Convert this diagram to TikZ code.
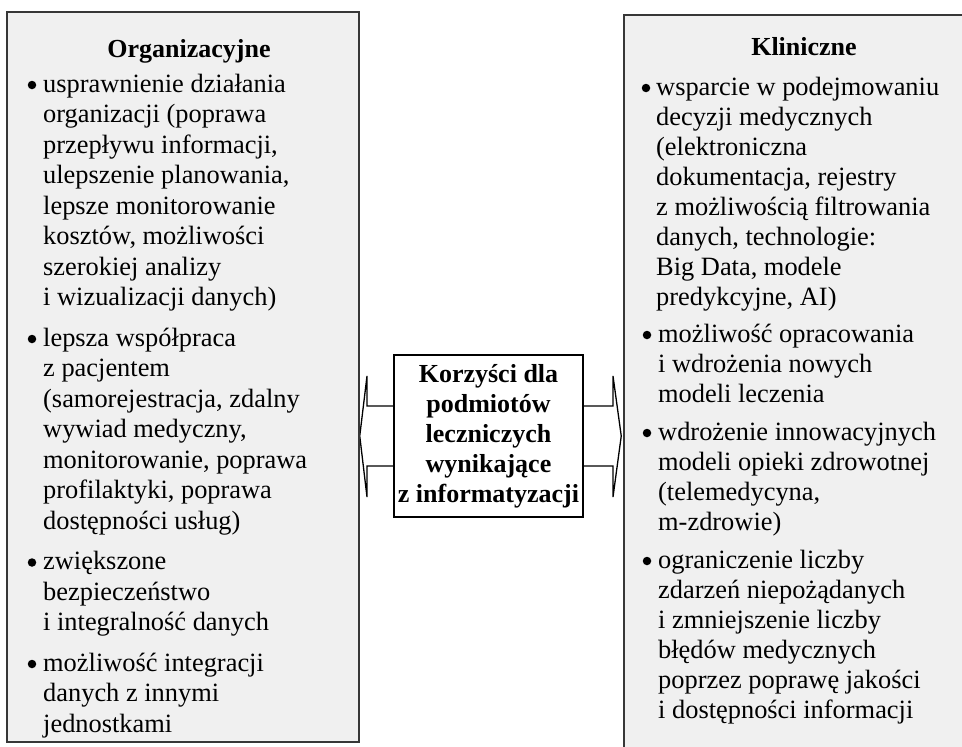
\documentclass[tikz,border=0pt]{standalone}
\usepackage{fontspec}
\setmainfont{Liberation Serif}
\usetikzlibrary{calc,backgrounds}
\definecolor{panelfill}{RGB}{240,240,240}
\definecolor{panelline}{RGB}{55,55,55}
\begin{document}
\begin{tikzpicture}[x=1pt,y=-1pt,
  panel/.style={draw=panelline, line width=1.5pt, fill=panelfill, inner sep=0pt},
  itemtext/.style={anchor=north west, inner sep=0pt, align=left, font=\fontsize{26.4}{30.5}\selectfont},
  itemtextr/.style={anchor=north west, inner sep=0pt, align=left, font=\fontsize{26.4}{30}\selectfont},
  paneltitle/.style={anchor=base, inner sep=0pt, font=\bfseries\fontsize{26}{30}\selectfont},
  bulletdot/.style={circle, fill=black, inner sep=0pt, minimum size=8.5pt},
  centerbox/.style={draw=black, line width=2pt, fill=white, inner sep=0pt,
    minimum width=189pt, minimum height=162pt, align=center,
    font=\bfseries\fontsize{26}{30}\selectfont},
  blockarrow/.style={draw=black, line width=1.3pt, fill=white, line join=miter}]
\useasboundingbox (0,0) rectangle (962,747);
\begin{scope}
\clip (0,0) rectangle (962,747);
\node[panel, minimum width=352pt, minimum height=730pt] (L) at (183,377) {};
\node[panel, minimum width=361pt, minimum height=745pt] (R) at (804.5,387.5) {};
\end{scope}

% left panel
\node[paneltitle] (Lt) at (189,57) {Organizacyjne};
\node[bulletdot] (lb1) at (32,85) {};
\node[itemtext] (l1) at (43,70.65) {\strut usprawnienie działania\\organizacji (poprawa\\przepływu informacji,\\ulepszenie planowania,\\lepsze monitorowanie\\kosztów, możliwości\\szerokiej analizy\\i wizualizacji danych)};
\node[bulletdot] (lb2) at (32,339) {};
\node[itemtext] (l2) at (43,324.65) {\strut lepsza współpraca\\z pacjentem\\(samorejestracja, zdalny\\wywiad medyczny,\\monitorowanie, poprawa\\profilaktyki, poprawa\\dostępności usług)};
\node[bulletdot] (lb3) at (32,562.5) {};
\node[itemtext] (l3) at (43,548.15) {\strut zwiększone\\bezpieczeństwo\\i integralność danych};
\node[bulletdot] (lb4) at (32,664) {};
\node[itemtext] (l4) at (43,649.65) {\strut możliwość integracji\\danych z innymi\\jednostkami};

% right panel
\node[paneltitle] (Rt) at (804,55) {Kliniczne};
\node[bulletdot] (rb1) at (646,88) {};
\node[itemtextr] (r1) at (656,74) {\strut wsparcie w podejmowaniu\\decyzji medycznych\\(elektroniczna\\dokumentacja, rejestry\\z możliwością filtrowania\\danych, technologie:\\Big Data, modele\\predykcyjne, AI)};
\node[bulletdot] (rb2) at (647,335) {};
\node[itemtextr] (r2) at (658,321) {\strut możliwość opracowania\\i wdrożenia nowych\\modeli leczenia};
\node[bulletdot] (rb3) at (647,433) {};
\node[itemtextr] (r3) at (658,419) {\strut wdrożenie innowacyjnych\\modeli opieki zdrowotnej\\(telemedycyna,\\m-zdrowie)};
\node[bulletdot] (rb4) at (647,561) {};
\node[itemtextr] (r4) at (658,547) {\strut ograniczenie liczby\\zdarzeń niepożądanych\\i zmniejszenie liczby\\błędów medycznych\\poprzez poprawę jakości\\i dostępności informacji};

% centre
\node[centerbox] (M) at (488.5,436) {Korzyści dla\\podmiotów\\leczniczych\\wynikające\\z informatyzacji};

\begin{scope}[on background layer]
\draw[blockarrow] ($(M.west)+(0,-30)$) -- ++(-26,0) -- ++(0,-30)
  -- (L.east |- M.west) -- ($(M.west)+(-26,61)$) -- ++(0,-31) -- ($(M.west)+(0,30)$);
\draw[blockarrow] ($(M.east)+(0,-30)$) -- ++(29,0) -- ++(0,-30)
  -- ($(R.west |- M.east)+(-2,0)$) -- ($(M.east)+(29,61)$) -- ++(0,-31) -- ($(M.east)+(0,30)$);
\end{scope}
\end{tikzpicture}
\end{document}
